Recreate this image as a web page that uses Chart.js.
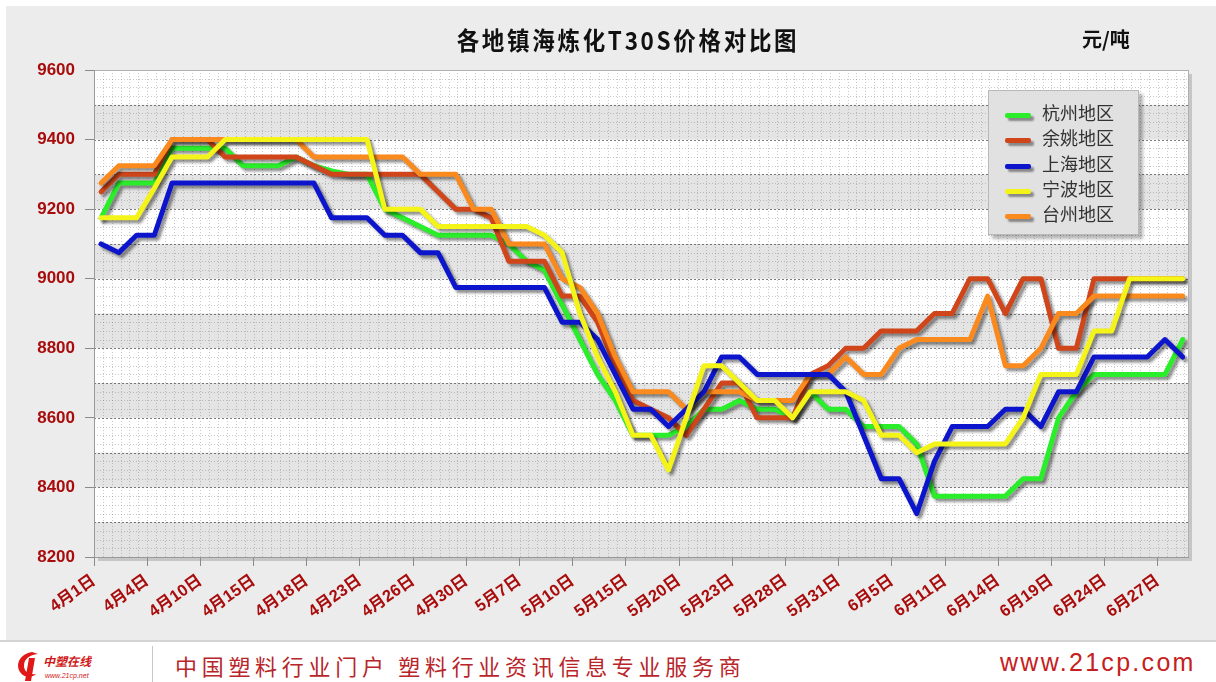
<!DOCTYPE html>
<html>
<head>
<meta charset="utf-8">
<script src="https://cdn.jsdelivr.net/npm/chart.js@4.4.1/dist/chart.umd.min.js"></script>
<style>
  body { margin:0; width:1216px; height:682px; background:#fff; position:relative; overflow:hidden;
         font-family:"Liberation Sans", Arial, "Noto Sans CJK SC", sans-serif; }
  #panel { position:absolute; left:6px; top:6px; width:1210px; height:634px; background:#ececec; }
  #chartCanvas { position:absolute; left:0; top:0; }
  #title { position:absolute; top:21px; left:0; width:1256px; text-align:center; font-size:25px; font-weight:bold;
           letter-spacing:3px; color:#111; font-family:"Noto Sans CJK SC", sans-serif; transform:scaleX(0.9); }
  #unit { position:absolute; top:24px; left:1082px; font-size:20px; font-weight:bold; color:#111;
          font-family:"Noto Sans CJK SC", sans-serif; }
  #legend { position:absolute; left:988px; top:90px; width:149px; height:143px; background:#e1e1e1;
            border:1px solid #b8b8b8; box-shadow:4px 4px 3px rgba(0,0,0,0.28); }
  .item { position:absolute; left:16px; height:25px; font-size:18px; color:#333; font-family:"Noto Sans CJK SC", sans-serif; }
  .item i { position:absolute; left:0; top:12px; width:26px; height:5px; border-radius:2px;
            box-shadow:3px 3px 2px rgba(0,0,0,0.4); }
  .item span { position:absolute; left:37px; top:-1px; white-space:nowrap; line-height:25px; }
  #footer { position:absolute; left:0; top:640px; width:1216px; height:42px; background:#fff; border-top:2px solid #d4d4d4; }
  #logo { position:absolute; left:12px; top:6px; width:140px; height:34px; }
  #sep { position:absolute; left:152px; top:4px; width:1px; height:38px; background:#c8c8c8; }
  #slogan { position:absolute; left:175px; top:7px; font-size:22px; letter-spacing:4.7px; color:#b8262a;
            font-family:"Noto Sans CJK SC", sans-serif; }
  #site { position:absolute; left:1000px; top:6px; font-size:25px; letter-spacing:2.3px; color:#c62020; }
</style>
</head>
<body>
<div id="panel"></div>
<canvas id="chartCanvas" width="1216" height="640"></canvas>
<div id="title">各地镇海炼化T30S价格对比图</div>
<div id="unit">元/吨</div>
<div id="legend"></div>
<div id="footer">
  <svg id="logo" viewBox="0 0 140 34">
    <path d="M20 4 C8 6 3 16 8 24 C12 30 20 30 24 26 C18 27 12 24 12 18 C12 11 17 7 26 6 Z" fill="#e01818"/>
    <path d="M17 10 L23 10 L19 33 L13 33 Z" fill="#e01818"/>
    <text x="31" y="18" font-size="12" font-weight="bold" font-style="italic" fill="#d01818" font-family="Noto Sans CJK SC">中塑在线</text>
    <text x="33" y="30" font-size="7" font-style="italic" fill="#d01818" font-family="Liberation Sans">www.21cp.net</text>
  </svg>
  <div id="sep"></div>
  <div id="slogan">中国塑料行业门户 塑料行业资讯信息专业服务商</div>
  <div id="site">www.21cp.com</div>
</div>
<script>
const xLabels = ['4月1日','4月4日','4月10日','4月15日','4月18日','4月23日','4月26日','4月30日','5月7日','5月10日',
                 '5月15日','5月20日','5月23日','5月28日','5月31日','6月5日','6月11日','6月14日','6月19日','6月24日','6月27日'];
const seriesNames = ['杭州地区','余姚地区','上海地区','宁波地区','台州地区'];
const seriesColors = ['#2aee2a','#d0461a','#0c14cc','#f4f418','#fb8a1e'];

const hangzhou = [9175,9275,9275,9275,9375,9375,9375,9375,9325,9325, 9325,9350,9325,9310,9300,9300,9200,9175,9150,9125,
                  9125,9125,9125,9100,9050,9025,8925,8825,8725,8650, 8550,8550,8550,8575,8625,8625,8650,8625,8625,8600,
                  8675,8625,8625,8575,8575,8575,8525,8375,8375,8375, 8375,8375,8425,8425,8600,8675,8725,8725,8725,8725,
                  8725,8825];
const yuyao    = [9250,9300,9300,9300,9400,9400,9400,9350,9350,9350, 9350,9350,9325,9300,9300,9300,9300,9300,9300,9250,
                  9200,9200,9175,9050,9050,9050,8950,8950,8875,8750, 8650,8625,8600,8550,8625,8700,8700,8600,8600,8600,
                  8725,8750,8800,8800,8850,8850,8850,8900,8900,9000, 9000,8900,9000,9000,8800,8800,9000,9000,9000,9000,
                  9000,9000];
const shanghai = [9100,9075,9125,9125,9275,9275,9275,9275,9275,9275, 9275,9275,9275,9175,9175,9175,9125,9125,9075,9075,
                  8975,8975,8975,8975,8975,8975,8875,8875,8825,8725, 8625,8625,8575,8625,8675,8775,8775,8725,8725,8725,
                  8725,8725,8675,8550,8425,8425,8325,8475,8575,8575, 8575,8625,8625,8575,8675,8675,8775,8775,8775,8775,
                  8825,8775];
const ningbo   = [9175,9175,9175,9260,9350,9350,9350,9400,9400,9400, 9400,9400,9400,9400,9400,9400,9200,9200,9200,9150,
                  9150,9150,9150,9150,9150,9125,9075,8900,8775,8675, 8550,8550,8450,8600,8750,8750,8700,8650,8650,8600,
                  8675,8675,8675,8650,8550,8550,8500,8525,8525,8525, 8525,8525,8600,8725,8725,8725,8850,8850,9000,9000,
                  9000,9000];
const taizhou  = [9275,9325,9325,9325,9400,9400,9400,9400,9400,9400, 9400,9400,9350,9350,9350,9350,9350,9350,9300,9300,
                  9300,9200,9200,9100,9100,9100,9000,8975,8900,8775, 8675,8675,8675,8625,8675,8675,8675,8650,8650,8650,
                  8725,8725,8775,8725,8725,8800,8825,8825,8825,8825, 8950,8750,8750,8800,8900,8900,8950,8950,8950,8950,
                  8950,8950];

const allSeries = [hangzhou, yuyao, shanghai, ningbo, taizhou];
const drawOrder = [4, 3, 1, 0, 2]; // lower = drawn on top

// legend box
const legend = document.getElementById('legend');
seriesNames.forEach((name, i) => {
  const d = document.createElement('div');
  d.className = 'item';
  d.style.top = (10 + i * 25.3) + 'px';
  d.innerHTML = '<i style="background:' + seriesColors[i] + '"></i><span>' + name + '</span>';
  legend.appendChild(d);
});

// banded, dotted plot background + plot shadow
const plotBackground = {
  id: 'plotBackground',
  beforeDraw(chart) {
    const {ctx, chartArea: a, scales: {x, y}} = chart;
    ctx.save();
    ctx.fillStyle = 'rgba(0,0,0,0.16)';
    ctx.fillRect(a.left + 4, a.top + 4, a.right - a.left, a.bottom - a.top);
    ctx.fillStyle = '#fff';
    ctx.fillRect(a.left, a.top, a.right - a.left, a.bottom - a.top);
    for (let v = 8200; v < 9600; v += 100) {
      if (((v - 8200) / 100) % 2 === 0) {
        const t = y.getPixelForValue(v + 100), b = y.getPixelForValue(v);
        ctx.fillStyle = '#e4e4e4';
        ctx.fillRect(a.left, t, a.right - a.left, b - t);
      }
    }
    ctx.lineWidth = 1;
    ctx.setLineDash([1, 2]);
    ctx.strokeStyle = 'rgba(120,120,120,0.4)';
    ctx.beginPath();
    for (let v = 8225; v < 9600; v += 25) {
      if (v % 100 === 0) continue;
      const p = Math.round(y.getPixelForValue(v)) + 0.5;
      ctx.moveTo(a.left, p); ctx.lineTo(a.right, p);
    }
    for (let v = x.min + 0.5; v < x.max; v += 0.5) {
      const p = Math.round(x.getPixelForValue(v)) + 0.5;
      ctx.moveTo(p, a.top); ctx.lineTo(p, a.bottom);
    }
    ctx.stroke();
    ctx.strokeStyle = 'rgba(70,70,70,0.7)';
    ctx.setLineDash([2, 2]);
    ctx.beginPath();
    for (let v = 8300; v < 9600; v += 100) {
      const p = Math.round(y.getPixelForValue(v)) + 0.5;
      ctx.moveTo(a.left, p); ctx.lineTo(a.right, p);
    }
    ctx.stroke();
    ctx.setLineDash([]);
    ctx.strokeStyle = '#b0b0b0';
    ctx.strokeRect(a.left + 0.5, a.top + 0.5, a.right - a.left, a.bottom - a.top);
    ctx.restore();
  }
};

// soft drop shadow under every line
const lineShadow = {
  id: 'lineShadow',
  beforeDatasetDraw(chart) {
    const ctx = chart.ctx;
    ctx.save();
    ctx.shadowColor = 'rgba(0,0,0,0.45)';
    ctx.shadowBlur = 3;
    ctx.shadowOffsetX = 3;
    ctx.shadowOffsetY = 3;
  },
  afterDatasetDraw(chart) {
    chart.ctx.restore();
  }
};

const axisFont = {family: '"Liberation Sans", Arial, "Noto Sans CJK SC"', weight: 'bold'};

new Chart(document.getElementById('chartCanvas'), {
  type: 'line',
  data: {
    datasets: allSeries.map((vals, i) => ({
      label: seriesNames[i],
      data: vals.map((v, j) => ({x: j, y: v})),
      borderColor: seriesColors[i],
      borderWidth: 5,
      pointRadius: 0,
      tension: 0,
      borderJoinStyle: 'round',
      borderCapStyle: 'round',
      order: drawOrder[i]
    }))
  },
  options: {
    responsive: false,
    animation: false,
    layout: {padding: {top: 70, right: 28, left: 0, bottom: 0}},
    plugins: {legend: {display: false}, tooltip: {enabled: false}},
    scales: {
      x: {
        type: 'linear',
        min: -0.4,
        max: 61.3,
        afterBuildTicks: scale => { scale.ticks = xLabels.map((l, k) => ({value: k * 3 - 0.4})); },
        afterFit: scale => { scale.height = 83; },
        ticks: {
          autoSkip: false, minRotation: 35, maxRotation: 35, padding: 5,
          color: '#a80c0c', font: {...axisFont, size: 16.5},
          callback: (v, k) => xLabels[k]
        },
        grid: {drawOnChartArea: false, tickLength: 9, tickColor: '#8a8a8a'},
        border: {color: '#9a9a9a'}
      },
      y: {
        min: 8200,
        max: 9600,
        afterFit: scale => { scale.width = 94; },
        ticks: {stepSize: 200, padding: 10, color: '#a80c0c', font: {...axisFont, size: 17},
                callback: v => String(v)},
        grid: {drawOnChartArea: false, tickLength: 9, tickColor: '#8a8a8a'},
        border: {color: '#9a9a9a'}
      }
    }
  },
  plugins: [plotBackground, lineShadow]
});
</script>
</body>
</html>
